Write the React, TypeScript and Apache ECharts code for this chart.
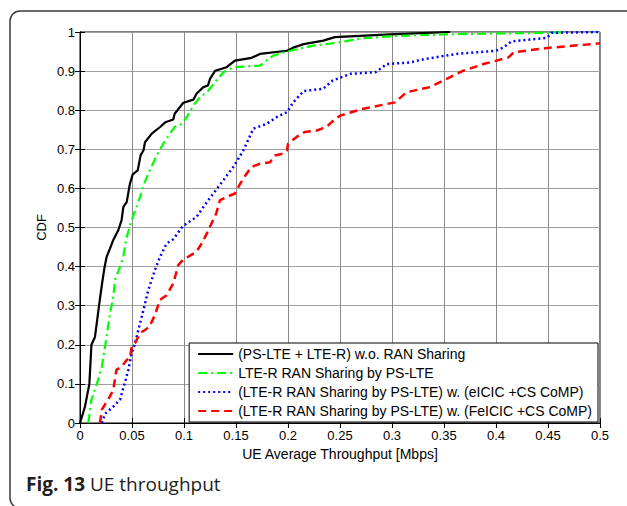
import React, { useEffect, useRef } from "react";
import * as echarts from "echarts";

const xTicks = [0, 0.05, 0.1, 0.15, 0.2, 0.25, 0.3, 0.35, 0.4, 0.45, 0.5];
const seriesNames = [
  "(PS-LTE + LTE-R) w.o. RAN Sharing",
  "LTE-R RAN Sharing by PS-LTE",
  "(LTE-R RAN Sharing by PS-LTE) w. (eICIC +CS CoMP)",
  "(LTE-R RAN Sharing by PS-LTE) w. (FeICIC +CS CoMP)",
];

const blackCdf: number[][] = [
  [0, 0], [0.0048, 0.042], [0.009, 0.1], [0.011, 0.2], [0.0144, 0.22], [0.0186, 0.306], [0.021, 0.353],
  [0.0234, 0.395], [0.0256, 0.425], [0.0288, 0.446], [0.032, 0.468], [0.0368, 0.493], [0.04, 0.519],
  [0.0417, 0.553], [0.0449, 0.565], [0.048, 0.612], [0.0507, 0.636], [0.0555, 0.646], [0.0583, 0.685],
  [0.061, 0.697], [0.0625, 0.718], [0.069, 0.74], [0.077, 0.757], [0.082, 0.769], [0.0897, 0.776],
  [0.091, 0.791], [0.0994, 0.819], [0.109, 0.827], [0.112, 0.842], [0.1186, 0.859], [0.123, 0.863],
  [0.125, 0.88], [0.13, 0.901], [0.141, 0.91], [0.149, 0.927], [0.165, 0.934], [0.173, 0.944],
  [0.199, 0.952], [0.205, 0.96], [0.215, 0.969], [0.234, 0.978], [0.245, 0.987], [0.298, 0.994], [0.356, 1.0],
];

const greenCdf: number[][] = [
  [0.008, 0], [0.011, 0.06], [0.016, 0.098], [0.021, 0.144], [0.0256, 0.221], [0.0288, 0.28], [0.032, 0.323],
  [0.0337, 0.366], [0.0378, 0.395], [0.0417, 0.425], [0.0442, 0.468], [0.0465, 0.49], [0.0497, 0.519],
  [0.0577, 0.578], [0.061, 0.608], [0.0657, 0.638], [0.0737, 0.684], [0.08, 0.714], [0.0865, 0.74],
  [0.091, 0.757], [0.0978, 0.765], [0.1026, 0.782], [0.109, 0.812], [0.115, 0.832], [0.123, 0.849],
  [0.13, 0.872], [0.1378, 0.897], [0.1474, 0.91], [0.173, 0.914], [0.186, 0.94], [0.199, 0.95],
  [0.224, 0.965], [0.245, 0.972], [0.272, 0.984], [0.305, 0.99], [0.3686, 0.995], [0.452, 0.998], [0.465, 1.0],
];

const blueCdf: number[][] = [
  [0.021, 0], [0.024, 0.023], [0.032, 0.042], [0.0385, 0.06], [0.043, 0.102], [0.0465, 0.136], [0.0497, 0.179],
  [0.053, 0.204], [0.0561, 0.238], [0.061, 0.289], [0.0657, 0.34], [0.072, 0.391], [0.077, 0.425],
  [0.0833, 0.459], [0.0897, 0.47], [0.099, 0.504], [0.112, 0.527], [0.122, 0.565], [0.133, 0.604],
  [0.1474, 0.655], [0.157, 0.697], [0.1667, 0.753], [0.1795, 0.765], [0.189, 0.782], [0.199, 0.795],
  [0.205, 0.82], [0.215, 0.849], [0.234, 0.855], [0.243, 0.876], [0.26, 0.893], [0.284, 0.897],
  [0.295, 0.918], [0.317, 0.922], [0.33, 0.93], [0.362, 0.944], [0.4, 0.952], [0.407, 0.96],
  [0.415, 0.976], [0.449, 0.985], [0.4535, 0.998], [0.5, 1.0],
];

const redCdf: number[][] = [
  [0.0192, 0], [0.021, 0.034], [0.0288, 0.068], [0.032, 0.085], [0.035, 0.136], [0.04, 0.144], [0.0449, 0.161],
  [0.048, 0.166], [0.0497, 0.195], [0.053, 0.204], [0.0577, 0.23], [0.0625, 0.238], [0.0667, 0.246],
  [0.072, 0.276], [0.077, 0.315], [0.0833, 0.327], [0.0897, 0.357], [0.0945, 0.404], [0.099, 0.417],
  [0.112, 0.438], [0.117, 0.459], [0.122, 0.485], [0.125, 0.502], [0.131, 0.536], [0.1346, 0.57],
  [0.141, 0.578], [0.149, 0.587], [0.154, 0.612], [0.159, 0.633], [0.165, 0.655], [0.173, 0.663],
  [0.1827, 0.667], [0.1875, 0.684], [0.1955, 0.689], [0.199, 0.697], [0.2, 0.714], [0.208, 0.731],
  [0.216, 0.744], [0.2276, 0.748], [0.237, 0.757], [0.243, 0.772], [0.25, 0.786], [0.271, 0.803],
  [0.3029, 0.82], [0.314, 0.846], [0.3365, 0.859], [0.3526, 0.88], [0.3686, 0.901], [0.388, 0.918],
  [0.412, 0.935], [0.417, 0.948], [0.449, 0.959], [0.5, 0.971],
];

const FONT = "'Liberation Sans', Arial, sans-serif";

export default function App() {
  const ref = useRef<HTMLDivElement>(null);
  useEffect(() => {
    if (!ref.current) return;
    const chart = echarts.init(ref.current, null, { renderer: "svg" });
    const fmt = (v: number) => String(+v.toFixed(2));
    const styles = [
      { color: "#000000", width: 2.2, type: "solid" as any },
      { color: "#00ff00", width: 2.2, type: [9, 4, 2, 4] as any },
      { color: "#0000ff", width: 2.5, type: [2, 3] as any },
      { color: "#ff0000", width: 2.5, type: [8, 5] as any },
    ];
    const datas = [blackCdf, greenCdf, blueCdf, redCdf];
    const tick = { show: true, inside: true, length: 5, lineStyle: { color: "#000" } };
    chart.setOption({
      animation: false,
      backgroundColor: "#ffffff",
      grid: { left: 80, top: 32, width: 520, height: 391, show: true, borderColor: "#000", borderWidth: 1 },
      xAxis: [
        {
          type: "value",
          min: 0,
          max: 0.5,
          interval: 0.05,
          name: "UE Average Throughput [Mbps]",
          nameLocation: "middle",
          nameGap: 24,
          nameTextStyle: { color: "#000", fontSize: 14, fontFamily: FONT },
          axisLine: { show: true, lineStyle: { color: "#000", width: 1 } },
          axisTick: tick,
          axisLabel: { color: "#000", fontSize: 13, fontFamily: FONT, margin: 6, formatter: fmt },
          splitLine: { show: true, lineStyle: { color: "#8a8a8a", width: 1 } },
        },
        {
          type: "value",
          position: "top",
          min: 0,
          max: 0.5,
          interval: 0.05,
          axisLine: { show: true, lineStyle: { color: "#000", width: 1 } },
          axisTick: tick,
          axisLabel: { show: false },
          splitLine: { show: false },
        },
      ],
      yAxis: [
        {
          type: "value",
          min: 0,
          max: 1,
          interval: 0.1,
          name: "CDF",
          nameLocation: "middle",
          nameGap: 32,
          nameMoveOverlap: false,
          nameTextStyle: { color: "#000", fontSize: 13, fontFamily: FONT },
          axisLine: { show: true, lineStyle: { color: "#000", width: 1 } },
          axisTick: tick,
          axisLabel: { color: "#000", fontSize: 13, fontFamily: FONT, margin: 5, formatter: fmt },
          splitLine: { show: true, lineStyle: { color: "#a0a0a0", width: 1 } },
        },
        {
          type: "value",
          position: "right",
          min: 0,
          max: 1,
          interval: 0.1,
          axisLine: { show: true, lineStyle: { color: "#000", width: 1 } },
          axisTick: tick,
          axisLabel: { show: false },
          splitLine: { show: false },
        },
      ],
      legend: {
        orient: "vertical",
        right: 29,
        bottom: 84,
        padding: [4, 6, 4, 8],
        itemWidth: 35,
        itemHeight: 14,
        itemGap: 5,
        backgroundColor: "#ffffff",
        borderColor: "#000",
        borderWidth: 1,
        borderRadius: 0,
        itemStyle: { opacity: 0, borderWidth: 0 },
        textStyle: { color: "#000", fontSize: 14, fontFamily: FONT },
        data: seriesNames.map((n) => ({ name: n })),
      },
      series: datas.map((d, i) => ({
        name: seriesNames[i],
        type: "line",
        data: d,
        symbol: "none",
        showSymbol: false,
        lineStyle: styles[i],
        itemStyle: { color: styles[i].color },
        z: 2 + i,
      })),
      graphic: [
        {
          type: "rect",
          shape: { x: 10, y: 11, width: 660, height: 497, r: 10 },
          style: { fill: "none", stroke: "#3a3a3a", lineWidth: 1.5 },
          silent: true,
        },
        {
          type: "text",
          left: 26,
          top: 474,
          style: {
            text: "{b|Fig. 13} UE throughput",
            fill: "#231f20",
            font: "19px 'Open Sans', sans-serif",
            rich: {
              b: { fontWeight: "bold", fontSize: 19, fontFamily: "'Open Sans', sans-serif", fill: "#231f20" },
            },
          },
        },
      ],
    });
    return () => chart.dispose();
  }, []);
  return <div ref={ref} style={{ position: "absolute", left: 0, top: 0, width: 627, height: 506 }} />;
}
